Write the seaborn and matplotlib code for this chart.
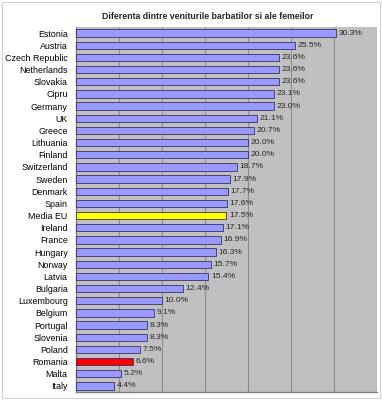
import matplotlib
matplotlib.use("Agg")
import matplotlib.pyplot as plt
import seaborn as sns
import pandas as pd

countries = ["Estonia", "Austria", "Czech Republic", "Netherlands", "Slovakia", "Cipru",
             "Germany", "UK", "Greece", "Lithuania", "Finland", "Switzerland", "Sweden",
             "Denmark", "Spain", "Media EU", "Ireland", "France", "Hungary", "Norway",
             "Latvia", "Bulgaria", "Luxembourg", "Belgium", "Portugal", "Slovenia",
             "Poland", "Romania", "Malta", "Italy"]
values = [30.3, 25.5, 23.6, 23.6, 23.6, 23.1, 23.0, 21.1, 20.7, 20.0, 20.0, 18.7, 17.9,
          17.7, 17.6, 17.5, 17.1, 16.9, 16.3, 15.7, 15.4, 12.4, 10.0, 9.1, 8.3, 8.3,
          7.5, 6.6, 5.2, 4.4]
title = "Diferenta dintre veniturile barbatilor si ale femeilor"

colors = {c: "#9999FF" for c in countries}
colors["Media EU"] = "#FFFF00"
colors["Romania"] = "#FF0000"

df = pd.DataFrame({"country": countries, "value": values})

sns.set_theme(style="white")
plt.rcParams["font.family"] = ["Liberation Sans", "DejaVu Sans"]

fig = plt.figure(figsize=(3.82, 4.0), dpi=100)
ax = fig.add_axes([0.199, 0.02, 0.787, 0.9125])
ax.set_facecolor("#C0C0C0")

sns.barplot(data=df, y="country", x="value", hue="country", palette=colors,
            legend=False, orient="h", width=0.6, edgecolor="#333366",
            linewidth=0.6, saturation=1, ax=ax, zorder=3)

ax.set_xlim(0, 35)
ax.set_xticks(range(0, 36, 5))
ax.xaxis.grid(True, color="#8C8C8C", linewidth=0.8, zorder=0)
ax.set_axisbelow(True)
ax.tick_params(axis="x", length=0, labelbottom=False)
ax.tick_params(axis="y", length=0, labelsize=6.4, pad=6, colors="#000000")
ax.set_xlabel("")
ax.set_ylabel("")
for s in ["left", "bottom"]:
    ax.spines[s].set_color("#808080")
    ax.spines[s].set_linewidth(1.0)
for s in ["top", "right"]:
    ax.spines[s].set_visible(False)

for i, v in enumerate(values):
    ax.text(v + 0.3, i, f"{v:.1f}%", va="center", ha="left", fontsize=6.1, zorder=4)

fig.text(0.545, 0.958, title, ha="center", va="center", fontsize=6.3, fontweight="bold")

border = plt.Rectangle((0.004, 0.006), 0.992, 0.99, transform=fig.transFigure,
                       fill=False, edgecolor="#D0D0D0", linewidth=0.8)
fig.add_artist(border)

fig.savefig("out.png", dpi=100)
